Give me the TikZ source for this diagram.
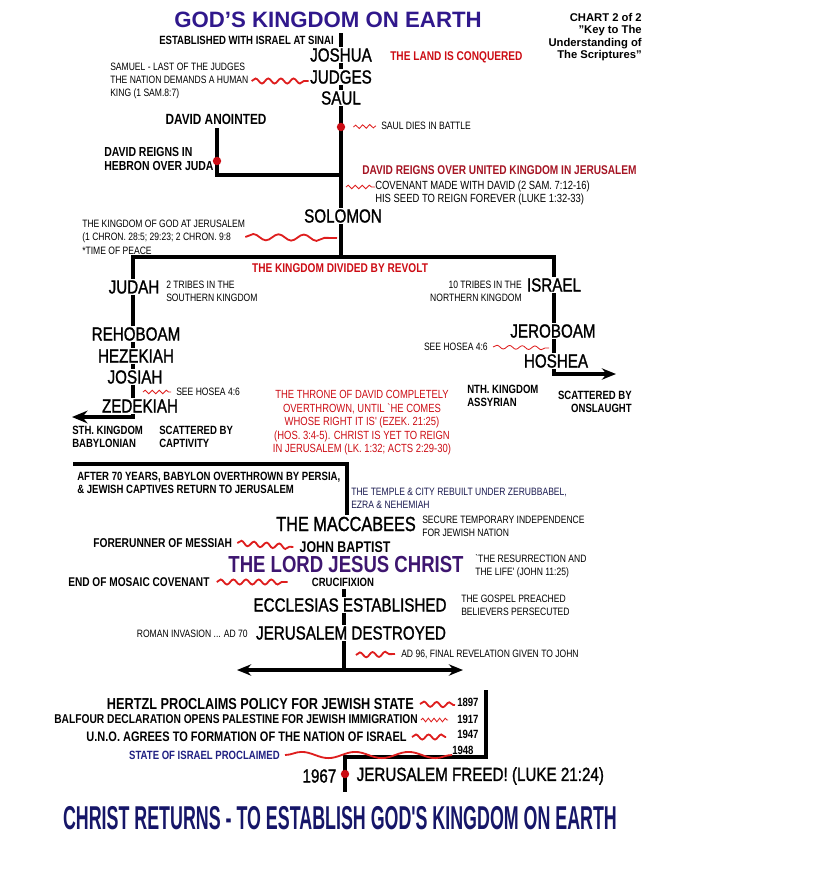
\documentclass[tikz,border=0pt]{standalone}
\usepackage{fontspec}
\setmainfont{Liberation Sans}
\newfontfamily\condfont{Liberation Sans}[FakeStretch=0.8]
\newfontfamily\heavyfont{Liberation Sans}[FakeStretch=0.8, FakeBold=1.2]
\newfontfamily\squeezefont{Liberation Sans}[FakeStretch=0.54]
\usetikzlibrary{arrows.meta, calc, decorations.pathmorphing}
\definecolor{kBlue}{RGB}{48,24,140}
\definecolor{kPurple}{RGB}{62,22,112}
\definecolor{kNavy}{RGB}{22,22,104}
\definecolor{kState}{RGB}{32,32,130}
\definecolor{kRed}{RGB}{204,12,20}
\definecolor{kDarkRed}{RGB}{165,20,35}
\definecolor{kWave}{RGB}{222,30,30}
\definecolor{kInk}{RGB}{26,26,80}

\begin{document}
\begin{tikzpicture}[x=0.025cm, y=-0.025cm,
  reign/.style={font=\heavyfont\fontsize{#1}{16}\selectfont, fill=white, inner sep=1pt},
  reign/.default=13.5,
  note/.style={font=\condfont\fontsize{#1}{9.5}\selectfont, inner sep=0pt},
  note/.default=7.6,
  tag/.style={font=\condfont\bfseries\fontsize{#1}{9.3}\selectfont, inner sep=0pt},
  tag/.default=8.5,
  alert/.style={tag=#1, text=kRed},
  alert/.default=9,
  trunk/.style={line width=2.6pt},
  branch/.style={line width=2.2pt},
  dot/.style={circle, fill=kRed, inner sep=0pt, minimum size=6pt},
  wave/.style={draw=kWave, line width=1.3pt, decorate,
               decoration={snake, segment length=9pt, amplitude=1.8pt}},
  ripple/.style={draw=kWave, line width=0.6pt, decorate,
                 decoration={snake, segment length=#1, amplitude=1.3pt}},
  ripple/.default=5pt,
  swell/.style={wave, decoration={snake, segment length=#1, amplitude=2.2pt}},
  swell/.default=18pt,
]
  \useasboundingbox (0,0) rectangle (840,869);

  \coordinate (top) at (341,33);
  \coordinate (split) at (341,257);
  \coordinate (jleft) at (133,257);
  \coordinate (jend) at (133,417);
  \coordinate (jout) at (72,417);
  \coordinate (iright) at (554,257);
  \coordinate (iend) at (554,374);
  \coordinate (iout) at (616,374);
  \coordinate (dtop) at (217,128);
  \coordinate (dcorner) at (217,175);
  \coordinate (djoin) at (341,175);
  \coordinate (pleft) at (73,464);
  \coordinate (pcorner) at (347,464);
  \coordinate (crosstop) at (344,589);
  \coordinate (cross) at (344,670);
  \coordinate (aleft) at (237,670);
  \coordinate (aright) at (463,670);
  \coordinate (btop) at (486,690);
  \coordinate (bcorner) at (486,757);
  \coordinate (bjoin) at (345,757);
  \coordinate (bend) at (345,792);

  \draw[trunk] (top) -- (split);
  \draw[branch] (dtop) -- (dcorner) -- (djoin);
  \draw[branch, {Stealth[length=11pt,width=9pt]}-{Stealth[length=10pt,width=8pt]}]
    (jout) -- (jend) -- (jleft) -- (iright) -- (iend) -- (iout);
  \draw[trunk] (crosstop) -- (cross);
  \draw[branch, {Stealth[length=10pt,width=8pt]}-{Stealth[length=10pt,width=8pt]}] (aleft) -- (aright);
  \draw[branch] (btop) -- (bcorner) -- (bjoin) -- (bend);

  \node[font=\bfseries\fontsize{15.8}{18}\selectfont, text=kBlue] (title) at (328,20) {GOD'S KINGDOM ON EARTH};
  \node[font=\bfseries\fontsize{8}{8.9}\selectfont, align=right, anchor=north east, inner sep=0pt] (chart) at (642,13)
    {CHART 2 of 2\\"Key to The\\Understanding of\\The Scriptures"};

  \node[tag, anchor=east] (sinai) at (334,40) {ESTABLISHED WITH ISRAEL AT SINAI};
  \node[reign] (joshua) at (341,55) {JOSHUA};
  \node[reign] (judges) at (341,77) {JUDGES};
  \node[reign] (saul) at (341,98) {SAUL};
  \node[alert, anchor=west] (conquered) at (390,57) {THE LAND IS CONQUERED};
  \node[note, anchor=west, align=left] (samuel) at (110,81)
    {SAMUEL - LAST OF THE JUDGES\\THE NATION DEMANDS A HUMAN\\KING (1 SAM.8:7)};
  \draw[wave] ($(samuel.east)+(3,0)$) -- (judges.west |- samuel.east);

  \node[dot] (sauldot) at (341,127) {};
  \node[note, anchor=west] (sauldies) at (381,126) {SAUL DIES IN BATTLE};
  \draw[ripple] ($(sauldot.east)+(8,0)$) -- ($(sauldies.west)+(-5,0)$);

  \node[tag=10.5] (anointed) at (216,119) {DAVID ANOINTED};
  \node[dot] (hebrondot) at (217,161) {};
  \node[tag=9.3, anchor=west, align=left] (hebron) at (104,159) {DAVID REIGNS IN\\HEBRON OVER JUDA};
  \node[alert, text=kDarkRed, anchor=west] (united) at (362,170) {DAVID REIGNS OVER UNITED KINGDOM IN JERUSALEM};
  \node[note=8.4, anchor=west, align=left] (covenant) at (375,193)
    {COVENANT MADE WITH DAVID (2 SAM. 7:12-16)\\HIS SEED TO REIGN FOREVER (LUKE 1:32-33)};
  \coordinate (covwave) at (346,187);
  \draw[ripple] (covwave) -- (covenant.west |- covwave);

  \node[reign] (solomon) at (343,216) {SOLOMON};
  \node[note, anchor=west, align=left] (kgod) at (82,237)
    {THE KINGDOM OF GOD AT JERUSALEM\\(1 CHRON. 28:5; 29:23; 2 CHRON. 9:8\\*TIME OF PEACE};
  \coordinate (kgwave) at (337,238);
  \draw[swell] (kgod.east) -- (kgwave);
  \node[alert] (revolt) at (340,268) {THE KINGDOM DIVIDED BY REVOLT};

  \node[reign] (judah) at (134,287) {JUDAH};
  \node[note, anchor=west, align=left] (south) at (166,291) {2 TRIBES IN THE\\SOUTHERN KINGDOM};
  \node[reign] (rehoboam) at (136,334) {REHOBOAM};
  \node[reign] (hezekiah) at (136,356) {HEZEKIAH};
  \node[reign] (josiah) at (135,377) {JOSIAH};
  \node[reign] (zedekiah) at (140,406) {ZEDEKIAH};
  \node[note, anchor=west] (hoseas) at (176,392) {SEE HOSEA 4:6};
  \coordinate (hwaves) at (143,392);
  \draw[ripple] (hwaves) -- ($(hoseas.west)+(-5,0)$);
  \node[tag, anchor=west, align=left] (sth) at (72,437) {STH. KINGDOM\\BABYLONIAN};
  \node[tag, anchor=west, align=left] (captivity) at (159,437) {SCATTERED BY\\CAPTIVITY};

  \node[reign] (israel) at (554,285) {ISRAEL};
  \node[note, anchor=east, align=right] (north) at (522,291) {10 TRIBES IN THE\\NORTHERN KINGDOM};
  \node[reign] (jeroboam) at (553,331) {JEROBOAM};
  \node[reign] (hoshea) at (556,361) {HOSHEA};
  \node[note, anchor=east] (hosean) at (488,347) {SEE HOSEA 4:6};
  \coordinate (hwaven) at (549,348);
  \draw[ripple=9pt] ($(hosean.east)+(5,0)$) -- (hwaven);
  \node[tag, anchor=west, align=left] (nth) at (467,396) {NTH. KINGDOM\\ASSYRIAN};
  \node[tag, anchor=east, align=right] (onslaught) at (632,402) {SCATTERED BY\\ONSLAUGHT};

  \node[font=\condfont\fontsize{8.4}{9.6}\selectfont, text=kRed, align=center, inner sep=0pt] (throne) at (362,423)
    {THE THRONE OF DAVID COMPLETELY\\OVERTHROWN, UNTIL `HE COMES\\WHOSE RIGHT IT IS' (EZEK. 21:25)\\(HOS. 3:4-5). CHRIST IS YET TO REIGN\\IN JERUSALEM (LK. 1:32; ACTS 2:29-30)};

  \node[tag, anchor=west, align=left] (persia) at (77,483)
    {AFTER 70 YEARS, BABYLON OVERTHROWN BY PERSIA,\\\& JEWISH CAPTIVES RETURN TO JERUSALEM};
  \node[note, anchor=west, align=left, text=kInk] (temple) at (351,498)
    {THE TEMPLE \& CITY REBUILT UNDER ZERUBBABEL,\\EZRA \& NEHEMIAH};
  \node[reign=14.5] (maccabees) at (346,524) {THE MACCABEES};
  \draw[branch] (pleft) -- (pcorner) -- (pcorner |- maccabees.north);
  \node[note, anchor=west, align=left] (secure) at (422,526) {SECURE TEMPORARY INDEPENDENCE\\FOR JEWISH NATION};
  \node[tag=9.1, anchor=west] (forerunner) at (93,543) {FORERUNNER OF MESSIAH};
  \node[font=\condfont\bfseries\fontsize{11}{12}\selectfont, inner sep=0pt] (baptist) at (345,547) {JOHN BAPTIST};
  \draw[wave] ($(forerunner.east)+(5,0)$) -- ($(baptist.west)+(-6,0)$);
  \node[font=\condfont\bfseries\fontsize{16.5}{18}\selectfont, text=kPurple, inner sep=0pt] (lord) at (346,565) {THE LORD JESUS CHRIST};
  \node[note, anchor=west, align=left] (life) at (475,566) {`THE RESURRECTION AND\\THE LIFE' (JOHN 11:25)};
  \node[tag=9, anchor=west] (mosaic) at (68,582) {END OF MOSAIC COVENANT};
  \node[tag] (crux) at (343,582) {CRUCIFIXION};
  \draw[wave] ($(mosaic.east)+(7,0)$) -- ($(crux.west)+(-24,0)$);

  \node[reign] (ecclesia) at (350,605) {ECCLESIAS ESTABLISHED};
  \node[note, anchor=west, align=left] (gospel) at (461,605) {THE GOSPEL PREACHED\\BELIEVERS PERSECUTED};
  \node[reign] (destroyed) at (351,633) {JERUSALEM DESTROYED};
  \node[note, anchor=east] (roman) at (248,634) {ROMAN INVASION ... AD 70};
  \node[note, anchor=west] (ad96) at (401,654) {AD 96, FINAL REVELATION GIVEN TO JOHN};
  \coordinate (rwave) at (356,655);
  \draw[wave] (rwave) -- ($(ad96.west)+(-6,0)$);

  \node[tag=11.3, anchor=east] (hertzl) at (414,704) {HERTZL PROCLAIMS POLICY FOR JEWISH STATE};
  \node[tag, anchor=west] (y1897) at (457,702) {1897};
  \draw[wave] ($(hertzl.east)+(6,0)$) -- ($(y1897.west)+(-2,3)$);
  \node[tag=9.1, anchor=east] (balfour) at (418,719) {BALFOUR DECLARATION OPENS PALESTINE FOR JEWISH IMMIGRATION};
  \node[tag, anchor=west] (y1917) at (457,719) {1917};
  \draw[ripple=4pt] ($(balfour.east)+(3,1)$) -- ($(y1917.west)+(-9,1)$);
  \node[tag=9.8, anchor=east] (uno) at (407,737) {U.N.O. AGREES TO FORMATION OF THE NATION OF ISRAEL};
  \node[tag, anchor=west] (y1947) at (457,734) {1947};
  \draw[wave] ($(uno.east)+(5,0)$) -- ($(y1947.west)+(-11,3)$);
  \node[tag=8.5, anchor=east, text=kState] (state) at (280,755) {STATE OF ISRAEL PROCLAIMED};
  \node[tag, anchor=west] (y1948) at (452,750) {1948};
  \draw[swell=38pt] ($(state.east)+(5,0)$) -- ($(y1948.west)+(0,5)$);

  \node[dot] (freedot) at (345,774) {};
  \node[reign, fill=none, anchor=east] (y1967) at (338,776) {1967};
  \node[reign, fill=none, anchor=west] (freed) at (355,776) {JERUSALEM FREED! (LUKE 21:24)};

  \node[font=\squeezefont\bfseries\fontsize{23.5}{26}\selectfont, text=kNavy] (returns) at (340,818)
    {CHRIST RETURNS - TO ESTABLISH GOD'S KINGDOM ON EARTH};
\end{tikzpicture}
\end{document}
